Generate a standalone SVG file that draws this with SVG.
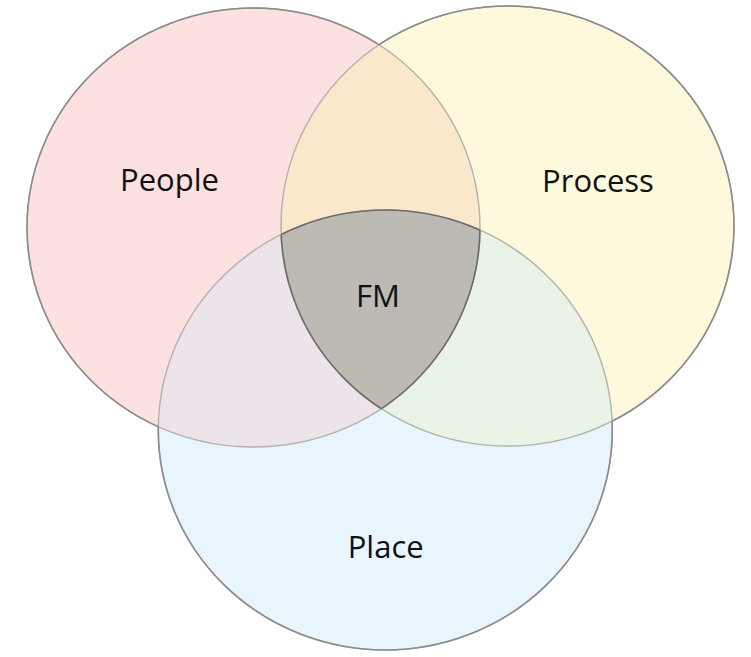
<svg xmlns="http://www.w3.org/2000/svg" width="751" height="657" viewBox="0 0 751 657">
<style>
.lbl{font-family:"Open Sans","Noto Sans","Liberation Sans",sans-serif;font-size:31px;fill:#111;text-anchor:middle}
.edge{fill:none;stroke:#8c8c8c;stroke-width:1.6}
.inner{fill:none;stroke:#b4b0aa;stroke-width:1.4}
.core{fill:none;stroke:#6b6b6b;stroke-width:1.6}
</style>
<defs>
<ellipse id="ePeople" cx="253.5" cy="227.5" rx="226.5" ry="219.5"/>
<ellipse id="eProcess" cx="507.5" cy="226" rx="226.5" ry="220"/>
<ellipse id="ePlace" cx="385.3" cy="430" rx="227" ry="220"/>
<clipPath id="cPeople"><use href="#ePeople"/></clipPath>
<clipPath id="cProcess"><use href="#eProcess"/></clipPath>
<clipPath id="cPlace"><use href="#ePlace"/></clipPath>
<clipPath id="cProcPlace"><use href="#ePlace" clip-path="url(#cProcess)"/></clipPath>
<clipPath id="cPeoPlace"><use href="#ePlace" clip-path="url(#cPeople)"/></clipPath>
<clipPath id="cPeoProc"><use href="#eProcess" clip-path="url(#cPeople)"/></clipPath>
<mask id="mPeople"><rect width="751" height="657" fill="#fff"/><use href="#eProcess" fill="#000"/><use href="#ePlace" fill="#000"/></mask>
<mask id="mProcess"><rect width="751" height="657" fill="#fff"/><use href="#ePeople" fill="#000"/><use href="#ePlace" fill="#000"/></mask>
<mask id="mPlace"><rect width="751" height="657" fill="#fff"/><use href="#ePeople" fill="#000"/><use href="#eProcess" fill="#000"/></mask>
</defs>
<rect width="751" height="657" fill="#fff"/>
<g id="people">
<use href="#ePeople" fill="#fde1e1"/>
</g>
<g id="process">
<use href="#eProcess" fill="#fef9dd"/>
</g>
<g id="place">
<use href="#ePlace" fill="#e8f5fd"/>
</g>
<g id="overlaps">
<use href="#eProcess" fill="#fbe7cc" clip-path="url(#cPeople)"/>
<use href="#ePlace" fill="#ede3ea" clip-path="url(#cPeople)"/>
<use href="#ePlace" fill="#e9f3e6" clip-path="url(#cProcess)"/>
<use href="#ePeople" fill="#bdb9b3" clip-path="url(#cProcPlace)"/>
</g>
<g id="outlines">
<use href="#ePeople" class="inner"/>
<use href="#eProcess" class="inner"/>
<use href="#ePlace" class="inner"/>
<use href="#ePeople" class="edge" mask="url(#mPeople)"/>
<use href="#eProcess" class="edge" mask="url(#mProcess)"/>
<use href="#ePlace" class="edge" mask="url(#mPlace)"/>
<use href="#ePeople" class="core" clip-path="url(#cProcPlace)"/>
<use href="#eProcess" class="core" clip-path="url(#cPeoPlace)"/>
<use href="#ePlace" class="core" clip-path="url(#cPeoProc)"/>
</g>
<g id="labels">
<text class="lbl" x="169.5" y="191">People</text>
<text class="lbl" x="598" y="192">Process</text>
<text class="lbl" x="385.7" y="558">Place</text>
<text class="lbl" x="378" y="307">FM</text>
</g>
</svg>
